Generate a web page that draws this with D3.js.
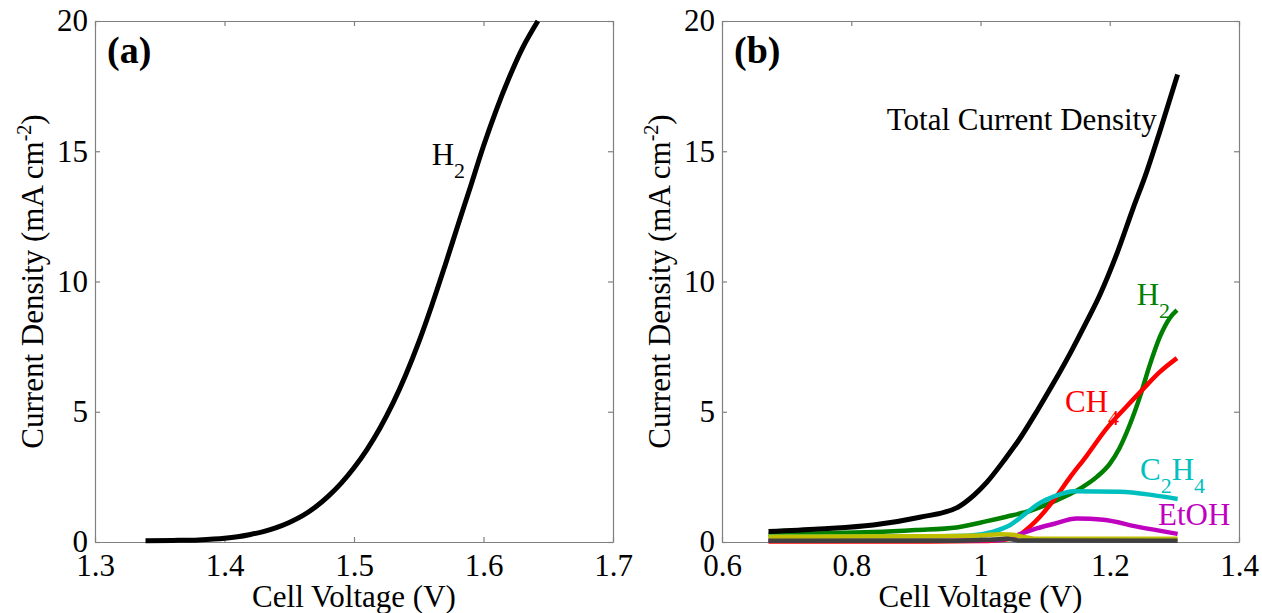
<!DOCTYPE html>
<html>
<head>
<meta charset="utf-8">
<script src="https://cdn.jsdelivr.net/npm/d3@7"></script>
<style>
  body { margin: 0; background: #fff; }
  text { font-family: "Liberation Serif", "Times New Roman", serif; }
</style>
</head>
<body>
<div id="chart"></div>
<script>
// ---- data ----
// panel (a): H2 only
var voltA = [1.339, 1.36, 1.38, 1.40, 1.41, 1.42, 1.43, 1.44, 1.45, 1.46, 1.47, 1.48, 1.49, 1.50, 1.51, 1.52, 1.53, 1.54, 1.55, 1.56, 1.57, 1.58, 1.59, 1.60, 1.61, 1.62, 1.63, 1.642];
var h2A   = [0.05, 0.06, 0.08, 0.14, 0.2, 0.29, 0.4, 0.55, 0.75, 1.0, 1.33, 1.75, 2.25, 2.85, 3.55, 4.37, 5.32, 6.42, 7.67, 9.07, 10.57, 12.12, 13.65, 15.2, 16.6, 17.85, 18.95, 20.0];

// panel (b): products
var totalV = [0.672, 0.75, 0.834, 0.906, 0.963, 0.99, 1.01, 1.037, 1.063, 1.088, 1.113, 1.14, 1.163, 1.185, 1.21, 1.236, 1.257, 1.278, 1.305];
var totalJ = [0.40, 0.50, 0.65, 0.95, 1.31, 1.8, 2.3, 3.15, 4.05, 5.05, 6.1, 7.3, 8.4, 9.5, 11.0, 12.8, 14.2, 15.8, 17.95];

var h2V = [0.672, 0.75, 0.834, 0.9, 0.963, 1.01, 1.04, 1.077, 1.113, 1.154, 1.18, 1.2, 1.215, 1.231, 1.247, 1.262, 1.278, 1.293, 1.304];
var h2J = [0.30, 0.33, 0.38, 0.46, 0.56, 0.8, 0.97, 1.2, 1.55, 2.05, 2.5, 3.0, 3.6, 4.5, 5.6, 6.8, 7.9, 8.6, 8.9];

var ch4V = [0.672, 0.9, 1.0, 1.04, 1.061, 1.077, 1.092, 1.113, 1.139, 1.164, 1.195, 1.226, 1.25, 1.278, 1.304];
var ch4J = [0.02, 0.02, 0.04, 0.1, 0.28, 0.6, 0.97, 1.6, 2.5, 3.3, 4.35, 5.2, 5.83, 6.54, 7.06];

var c2h4V = [0.672, 0.9, 0.98, 1.02, 1.046, 1.07, 1.092, 1.113, 1.144, 1.216, 1.267, 1.305];
var c2h4J = [0.2, 0.21, 0.24, 0.4, 0.65, 1.1, 1.5, 1.74, 1.95, 1.93, 1.8, 1.65];

var etohV = [0.672, 0.95, 1.03, 1.061, 1.087, 1.113, 1.149, 1.19, 1.242, 1.305];
var etohJ = [0.05, 0.05, 0.08, 0.3, 0.52, 0.69, 0.9, 0.85, 0.59, 0.31];

var yelV = [0.672, 0.9, 1.0, 1.03, 1.05, 1.07, 1.09, 1.305];
var yelJ = [0.2, 0.22, 0.25, 0.3, 0.28, 0.18, 0.12, 0.12];

var grayV = [0.672, 0.95, 1.02, 1.04, 1.06, 1.305];
var grayJ = [0.05, 0.05, 0.1, 0.12, 0.06, 0.05];

// ticks
var xTicksA = [1.3, 1.4, 1.5, 1.6, 1.7];
var xTicksB = [0.6, 0.8, 1, 1.2, 1.4];
var yTicks  = [0, 5, 10, 15, 20];

// ---- layout ----
var W = 1262, H = 613;
var plotTop = 21, plotH = 521;
var frameCol = "#808080";
var fs = 31, subFs = 22;

var svg = d3.select("#chart").append("svg")
    .attr("width", W).attr("height", H);

function zip(xs, ys) {
  return xs.map(function(v, i) { return {v: v, j: ys[i]}; });
}

// 축 + 프레임
function makePanel(left, plotW, xDomain, xTicks, letter) {
  var x = d3.scaleLinear().domain(xDomain).range([left, left + plotW]);
  var y = d3.scaleLinear().domain([0, 20]).range([plotTop + plotH, plotTop]);

  var fmt = function(d) { return d3.format("")(d); };

  // bottom
  var gb = svg.append("g").attr("transform", "translate(0," + (plotTop + plotH) + ")")
      .call(d3.axisBottom(x).tickValues(xTicks).tickFormat(fmt).tickSizeInner(-5).tickSizeOuter(0).tickPadding(12));
  // left
  var gl = svg.append("g").attr("transform", "translate(" + left + ",0)")
      .call(d3.axisLeft(y).tickValues(yTicks).tickSizeInner(-5).tickSizeOuter(0).tickPadding(7));
  // top / right (ticks only)
  var gt = svg.append("g").attr("transform", "translate(0," + plotTop + ")")
      .call(d3.axisTop(x).tickValues(xTicks).tickFormat("").tickSizeInner(-5).tickSizeOuter(0));
  var gr = svg.append("g").attr("transform", "translate(" + (left + plotW) + ",0)")
      .call(d3.axisRight(y).tickValues(yTicks).tickFormat("").tickSizeInner(-5).tickSizeOuter(0));

  [gb, gl, gt, gr].forEach(function(g) {
    g.select(".domain").attr("stroke", frameCol).attr("stroke-width", 1.2);
    g.selectAll(".tick line").attr("stroke", frameCol).attr("stroke-width", 1.2);
    g.selectAll(".tick text")
      .attr("font-family", "Liberation Serif, Times New Roman, serif")
      .attr("font-size", fs).attr("fill", "#000");
  });

  // x label
  svg.append("text")
    .attr("x", left + plotW / 2).attr("y", plotTop + plotH + 65)
    .attr("text-anchor", "middle").attr("font-size", fs)
    .text("Cell Voltage (V)");

  // y label
  var yl = svg.append("text")
    .attr("transform", "translate(" + (left - 52) + "," + (plotTop + plotH / 2) + ") rotate(-90)")
    .attr("text-anchor", "middle").attr("font-size", fs);
  yl.append("tspan").text("Current Density (mA cm");
  yl.append("tspan").attr("font-size", 20).attr("dy", -12).text("-2");
  yl.append("tspan").attr("dy", 12).text(")");

  // panel letter
  svg.append("text")
    .attr("x", x(xDomain[0]) + 12).attr("y", y(18.4))
    .attr("font-size", 38).attr("font-weight", "bold")
    .text(letter);

  return {x: x, y: y};
}

function drawLine(p, data, color, width) {
  var line = d3.line()
    .x(function(d) { return p.x(d.v); })
    .y(function(d) { return p.y(d.j); })
    .curve(d3.curveMonotoneX);
  svg.append("path")
    .datum(data)
    .attr("d", line)
    .attr("fill", "none")
    .attr("stroke", color)
    .attr("stroke-width", width)
    .attr("stroke-linejoin", "round");
}

// 라벨 (아래첨자 포함): parts = [[text, isSub], ...]
function chemLabel(p, v, j, parts, color) {
  var t = svg.append("text")
    .attr("x", p.x(v)).attr("y", p.y(j))
    .attr("font-size", fs).attr("fill", color);
  var down = false;
  parts.forEach(function(pt) {
    var s = t.append("tspan").text(pt[0]);
    if (pt[1] && !down) { s.attr("font-size", subFs).attr("dy", 13); down = true; }
    else if (!pt[1] && down) { s.attr("dy", -13); down = false; }
    else if (pt[1]) { s.attr("font-size", subFs); }
  });
}

// ---- panel (a) ----
var pA = makePanel(95, 518, [1.3, 1.7], xTicksA, "(a)");
drawLine(pA, zip(voltA, h2A), "#000", 5);
chemLabel(pA, 1.56, 14.47, [["H", 0], ["2", 1]], "#000");

// ---- panel (b) ----  (그리는 순서 = 겹침 순서)
var pB = makePanel(722, 517, [0.6, 1.4], xTicksB, "(b)");
drawLine(pB, zip(h2V, h2J), "#008000", 4.5);
drawLine(pB, zip(ch4V, ch4J), "#ff0000", 4.5);
drawLine(pB, zip(c2h4V, c2h4J), "#00bfbf", 4.5);
drawLine(pB, zip(etohV, etohJ), "#bf00bf", 4.5);
drawLine(pB, zip(yelV, yelJ), "#bfbf00", 4.5);
drawLine(pB, zip(grayV, grayJ), "#404040", 4.5);
drawLine(pB, zip(totalV, totalJ), "#000", 5);

chemLabel(pB, 0.855, 15.82, [["Total Current Density", 0]], "#000");
chemLabel(pB, 1.2417, 9.10, [["H", 0], ["2", 1]], "#008000");
chemLabel(pB, 1.1308, 4.99, [["CH", 0], ["4", 1]], "#ff0000");
chemLabel(pB, 1.2468, 2.38, [["C", 0], ["2", 1], ["H", 0], ["4", 1]], "#00bfbf");
chemLabel(pB, 1.2747, 0.65, [["EtOH", 0]], "#bf00bf");
</script>
</body>
</html>
